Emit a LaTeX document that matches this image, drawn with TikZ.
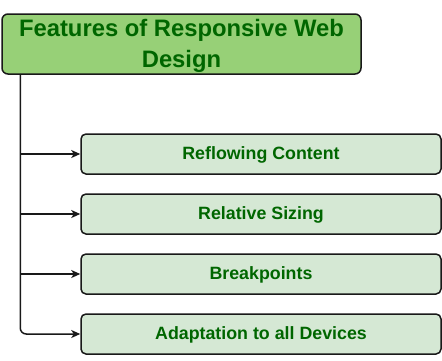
\documentclass[tikz,border=0pt]{standalone}
\usepackage{fontspec}
\setmainfont{Liberation Sans}
\usetikzlibrary{arrows.meta,calc}
\definecolor{titlefill}{HTML}{97D077}
\definecolor{childfill}{HTML}{D5E8D4}
\definecolor{txtgreen}{HTML}{006600}
\tikzset{
  titlebox/.style={draw=black!90, line width=1.5pt, fill=titlefill, rounded corners=6pt,
    minimum width=359pt, minimum height=60pt, inner sep=0pt, align=center,
    text height=47.2pt, text depth=0pt,
    font=\fontsize{23.8pt}{30.7pt}\selectfont\bfseries, text=txtgreen},
  childbox/.style={draw=black!90, line width=1.5pt, fill=childfill, rounded corners=5pt,
    minimum width=360pt, minimum height=40pt, inner sep=0pt,
    text height=12pt, text depth=1.5pt,
    font=\fontsize{17.8pt}{21pt}\selectfont\bfseries, text=txtgreen},
  conn/.style={draw=black!90, line width=1.5pt, -{Stealth[length=9pt,width=8pt,inset=2.5pt]}}
}
\begin{document}
\begin{tikzpicture}[x=1pt,y=-1pt]
\useasboundingbox (0,0) rectangle (442,360);
\node[titlebox] (title) at (181.5,44) {Features of Responsive Web\\Design};
\node[childbox] (c1) at (261,154) {Reflowing Content};
\node[childbox] (c2) at (261,214) {Relative Sizing};
\node[childbox] (c3) at (261,274) {Breakpoints};
\node[childbox] (c4) at (261,334) {Adaptation to all Devices};
\coordinate (trunk) at ([xshift=19pt]title.south west);
\draw[conn, rounded corners=6pt] (trunk) |- (c4.west);
\draw[conn] (trunk |- c1.west) -- (c1.west);
\draw[conn] (trunk |- c2.west) -- (c2.west);
\draw[conn] (trunk |- c3.west) -- (c3.west);
\end{tikzpicture}
\end{document}
